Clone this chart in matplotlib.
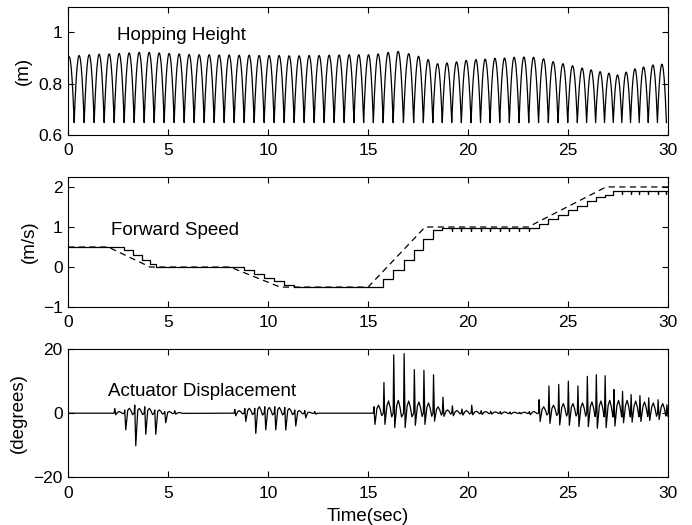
import numpy as np
import matplotlib
matplotlib.use("Agg")
from matplotlib import pyplot as plt

plt.rcParams['font.family'] = ['Liberation Sans', 'DejaVu Sans']
plt.rcParams['font.size'] = 12

# apex times of each hop (s) and apex heights (m)
apex_t = [0.05, 0.55, 1.05, 1.55, 2.05, 2.55, 3.05, 3.55, 4.05, 4.55,
          5.05, 5.55, 6.05, 6.55, 7.05, 7.55, 8.05, 8.55, 9.05, 9.55,
          10.05, 10.55, 11.05, 11.55, 12.05, 12.55, 13.05, 13.55, 14.05,
          14.53, 15.02, 15.5, 16.0, 16.5,
          17.03, 17.52, 18.0, 18.47, 18.94, 19.42, 19.9, 20.39, 20.85, 21.34,
          21.82, 22.3, 22.79, 23.27, 23.77, 24.25, 24.74, 25.22, 25.7, 26.15,
          26.6, 27.04, 27.47, 27.9, 28.34, 28.77, 29.24, 29.69]
apex_h = [0.905, 0.91, 0.913, 0.915, 0.916, 0.918, 0.92, 0.922, 0.922, 0.92,
          0.918, 0.916, 0.914, 0.913, 0.913, 0.912, 0.912, 0.911, 0.911, 0.91,
          0.91, 0.91, 0.909, 0.909, 0.91, 0.91, 0.911, 0.912, 0.913,
          0.913, 0.913, 0.916, 0.922, 0.926,
          0.917, 0.907, 0.894, 0.878, 0.881, 0.885, 0.891, 0.894, 0.896, 0.899,
          0.9, 0.903, 0.904, 0.903, 0.897, 0.886, 0.878, 0.87, 0.861, 0.854,
          0.847, 0.841, 0.834, 0.845, 0.858, 0.865, 0.873, 0.876]
trough_h = 0.648

# forward speed: desired (dashed) breakpoints
des_t = [0, 2.0, 4.1, 8.1, 10.6, 15.0, 17.85, 23.0, 26.9, 30]
des_v = [0.5, 0.5, 0.0, 0.0, -0.5, -0.5, 1.0, 1.0, 2.0, 2.0]

# forward speed: actual (solid) staircase, one step per hop
step_t = [2.8, 3.25, 3.7, 4.1, 4.4,
          8.8, 9.3, 9.8, 10.3, 10.8, 11.3,
          15.76, 16.25, 16.77, 17.28, 17.76, 18.24, 18.71,
          23.52, 24.01, 24.5, 24.98, 25.46, 25.93, 26.38, 26.82, 27.26]
step_v = [0.42, 0.3, 0.18, 0.08, 0.0,
          -0.08, -0.17, -0.27, -0.36, -0.45, -0.5,
          -0.29, -0.07, 0.17, 0.42, 0.71, 0.93, 0.97,
          1.08, 1.21, 1.29, 1.42, 1.53, 1.64, 1.75, 1.8, 1.89]
v_start = 0.5
dip_t = [19.18, 19.66, 20.15, 20.62, 21.1, 21.58, 22.06, 22.55, 23.03,
         27.69, 28.12, 28.56, 29.0, 29.47, 29.91]
dip_depth = 0.07

# actuator displacement per active hop: touchdown time, spike, trough, hump (deg)
act_t = [2.3, 2.8, 3.3, 3.8, 4.3, 4.8, 5.3,
         8.3, 8.8, 9.3, 9.8, 10.3, 10.8, 11.3, 11.8, 12.3,
         15.26, 15.76, 16.25, 16.77, 17.28, 17.76, 18.24, 18.71, 19.18,
         19.66, 20.15, 20.62, 21.1, 21.58, 22.06, 22.55, 23.03,
         23.52, 24.01, 24.5, 24.98, 25.46, 25.93, 26.38, 26.82, 27.26,
         27.69, 28.12, 28.56, 29.0, 29.47, 29.91]
act_p = [1.5, 1.0, 2.5, 2.0, 1.0, 0.5, 0.8,
         1.2, 1.5, 1.5, 2.0, 2.0, 1.8, 1.0, 0.8, 0.5,
         2.0, 9.6, 18.2, 18.6, 13.6, 13.4, 12.0, 5.0, 2.3,
         1.3, 2.5, 0.8, 0.6, 0.5, 0.4, 0.3, 0.5,
         4.2, 8.5, 9.0, 10.0, 8.5, 11.5, 12.0, 11.7, 7.4,
         6.8, 5.8, 5.5, 4.8, 4.2, 2.6]
act_n = [-0.5, -5.2, -10.2, -6.6, -6.6, -3.0, -0.3,
         -0.8, -2.6, -6.3, -5.2, -5.2, -5.3, -4.0, -1.5, -0.3,
         -3.5, -3.5, -4.5, -4.5, -3.8, -3.5, -2.5, -1.0, -0.8,
         -0.6, -0.5, -0.4, -0.3, -0.3, -0.3, -0.2, -0.5,
         -2.6, -3.2, -3.7, -3.8, -4.2, -4.2, -4.7, -4.5, -4.0,
         -3.0, -2.8, -2.6, -2.3, -2.0, -1.0]
act_h = [0.5, 1.5, 1.5, 1.5, 1.0, 0.5, 0.2,
         0.8, 1.5, 2.0, 1.8, 1.8, 1.5, 0.8, 0.3, 0.0,
         2.5, 3.8, 4.0, 3.8, 3.5, 3.2, 2.0, 1.0, 0.8,
         0.8, 0.6, 0.5, 0.4, 0.4, 0.3, 0.3, 0.5,
         2.0, 2.5, 3.0, 3.0, 3.2, 3.5, 3.8, 4.0, 4.0,
         4.0, 3.8, 3.5, 3.2, 3.0, 2.0]

xticks = [0, 5, 10, 15, 20, 25, 30]


def hop_curve():
    # ballistic arcs between touchdowns, apex values from the lists above
    xs, ys = [], []
    for i in range(len(apex_t)):
        left = (apex_t[i] - apex_t[i - 1]) / 2 if i > 0 else (apex_t[1] - apex_t[0]) / 2
        right = (apex_t[i + 1] - apex_t[i]) / 2 if i < len(apex_t) - 1 else left
        for half, sgn in ((left, -1), (right, 1)):
            s = np.linspace(0, 1, 20)
            if sgn < 0:
                s = s[::-1]
            xs.extend(apex_t[i] + sgn * half * s)
            ys.extend(apex_h[i] - (apex_h[i] - trough_h) * s ** 2)
    return np.array(xs), np.array(ys)


def speed_curve():
    events = [(t, 'step', v) for t, v in zip(step_t, step_v)]
    events += [(t, 'dip', 0) for t in dip_t]
    events.sort()
    xs, ys = [0], [v_start]
    cur = v_start
    for t, kind, v in events:
        if kind == 'step':
            xs += [t, t]
            ys += [cur, v]
            cur = v
        else:
            xs += [t, t, t]
            ys += [cur, cur - dip_depth, cur]
    xs.append(30)
    ys.append(cur)
    return xs, ys


def actuator_curve():
    xs, ys = [0], [0]
    for t, p, n, h in zip(act_t, act_p, act_n, act_h):
        xs += [t, t + 0.03, t + 0.08, t + 0.18, t + 0.26, t + 0.34, t + 0.42]
        ys += [0, p, n, 0.6 * h, h, 0.5 * h, -0.3 * h]
    return xs, ys


def style(ax, ylim, yticks, ylabels):
    ax.set_xlim(0, 30)
    ax.set_ylim(*ylim)
    ax.set_xticks(xticks)
    ax.set_yticks(yticks)
    ax.set_yticklabels(ylabels)
    ax.tick_params(direction='in', top=True, right=True, length=4, width=0.8,
                   labelsize=12.5)
    ax.tick_params(axis='x', pad=6)
    ax.tick_params(axis='y', pad=4)
    for sp in ax.spines.values():
        sp.set_linewidth(0.8)


fig = plt.figure(figsize=(6.92, 5.25), dpi=100)
L, W = 0.0985, 0.867
ax1 = fig.add_axes([L, 0.743, W, 0.244])
ax2 = fig.add_axes([L, 0.415, W, 0.248])
ax3 = fig.add_axes([L, 0.091, W, 0.244])

hx, hy = hop_curve()
ax1.plot(hx, hy, color='black', lw=0.9)
style(ax1, (0.6, 1.1), [0.6, 0.8, 1.0], ['0.6', '0.8', '1'])
ax1.text(2.45, 0.971, 'Hopping Height', fontsize=13.5)
ax1.set_ylabel('(m)', fontsize=13.5)
ax1.yaxis.set_label_coords(-0.061, 0.5)

sx, sy = speed_curve()
ax2.plot(des_t, des_v, color='black', lw=0.9, linestyle=(0, (5, 3.5)))
ax2.plot(sx, sy, color='black', lw=0.9)
style(ax2, (-1, 2.25), [-1, 0, 1, 2], ['\u22121', '0', '1', '2'])
ax2.text(2.14, 0.80, 'Forward Speed', fontsize=13.5)
ax2.set_ylabel('(m/s)', fontsize=13.5)
ax2.yaxis.set_label_coords(-0.051, 0.5)

ax_, ay_ = actuator_curve()
ax3.plot(ax_, ay_, color='black', lw=0.9)
style(ax3, (-20, 20), [-20, 0, 20], ['\u221220', '0', '20'])
ax3.text(2.0, 5.5, 'Actuator Displacement', fontsize=13.5)
ax3.set_ylabel('(degrees)', fontsize=13.5)
ax3.yaxis.set_label_coords(-0.069, 0.5)
ax3.set_xlabel('Time(sec)', fontsize=13.5, labelpad=5)

fig.savefig('out.png', dpi=100)
